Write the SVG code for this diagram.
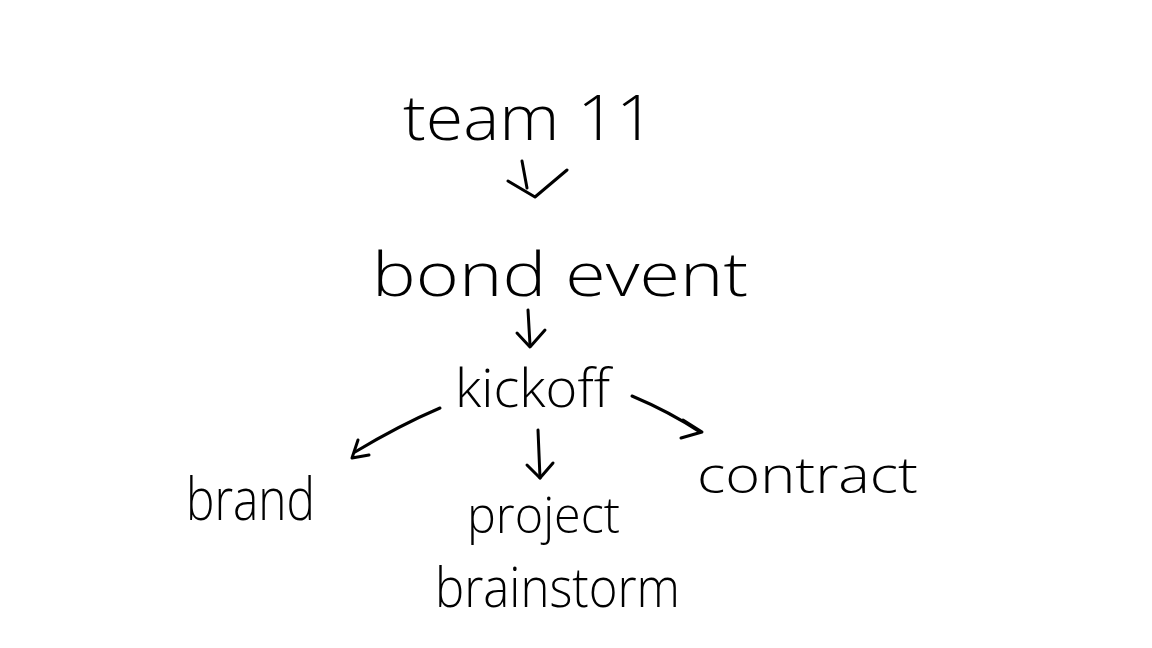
<svg xmlns="http://www.w3.org/2000/svg" width="1152" height="648" viewBox="0 0 1152 648">
<style>
text{font-family:"Open Sans","Liberation Sans",sans-serif;font-weight:300;fill:#000}
.c{fill:none;stroke:#000;stroke-width:3;stroke-linecap:round;stroke-linejoin:round}
</style>
<rect width="1152" height="648" fill="#fff"/>
<g id="team11"><text x="403" y="140" font-size="62" textLength="252" lengthAdjust="spacingAndGlyphs">team 11</text></g>
<g id="bondevent"><text x="372" y="296" font-size="60" textLength="376" lengthAdjust="spacingAndGlyphs">bond event</text></g>
<g id="kickoff"><text x="455" y="407" font-size="54" textLength="155" lengthAdjust="spacingAndGlyphs">kickoff</text></g>
<g id="brand"><text x="186" y="520" font-size="58" textLength="129" lengthAdjust="spacingAndGlyphs">brand</text></g>
<g id="contract"><text x="697" y="493" font-size="50" textLength="221" lengthAdjust="spacingAndGlyphs">contract</text></g>
<g id="projectbrainstorm">
<text x="467" y="533" font-size="50" textLength="153" lengthAdjust="spacingAndGlyphs">project</text>
<text x="435" y="607" font-size="56" textLength="245" lengthAdjust="spacingAndGlyphs">brainstorm</text>
</g>
<g id="connectors">
<path class="c" d="M522 161 L527 188"/><path class="c" d="M508 181 L535 197 L567 170"/>
<path class="c" d="M528 310 L530 345"/><path class="c" d="M517 333 L530 347 L545 330"/>
<path class="c" d="M440 408 Q400 425 355 452"/><path class="c" d="M358 440 L352 458 L369 455"/>
<path class="c" d="M538 430 L540 478"/><path class="c" d="M527 465 L540 478 L553 463"/>
<path class="c" d="M632 396 Q670 412 700 432"/><path class="c" d="M683 420 L702 432 L681 438"/>
</g>
</svg>
